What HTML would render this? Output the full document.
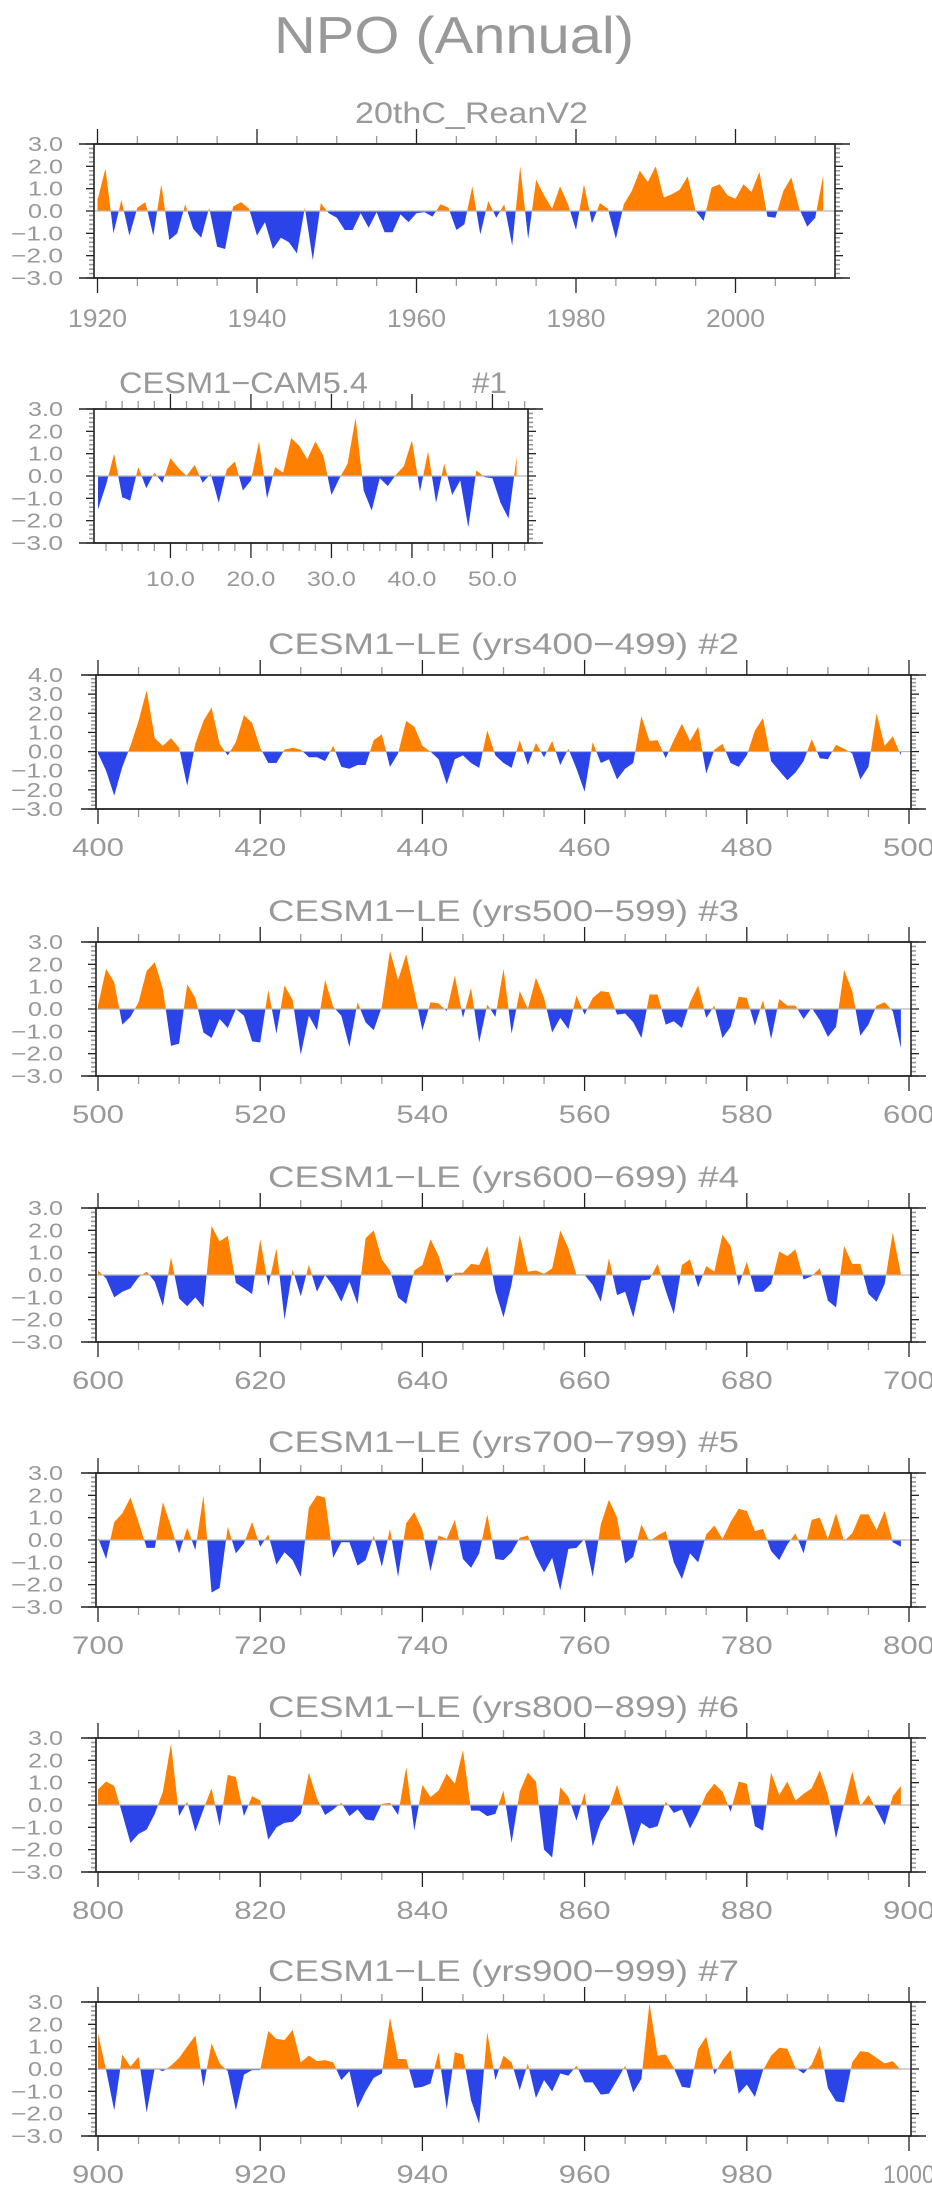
<!DOCTYPE html>
<html><head><meta charset="utf-8"><style>
html,body{margin:0;padding:0;background:#fff;}
svg{display:block;font-family:"Liberation Sans",sans-serif;}
</style></head><body>
<svg id="fig" width="932" height="2194" viewBox="0 0 932 2194" xmlns="http://www.w3.org/2000/svg">
<text x="274" y="53" font-size="52" fill="#999" textLength="360" lengthAdjust="spacingAndGlyphs">NPO (Annual)</text>
</svg>
<script>
// ---- data ----
const reanStart = 1920;
const reanValues = [0.5,1.9,-1.0,0.5,-1.1,0.15,0.4,-1.1,1.2,-1.3,-1.0,0.3,-0.8,-1.2,0.15,-1.6,-1.7,0.2,0.4,0.1,-1.1,-0.5,-1.7,-1.2,-1.4,-1.9,0.15,-2.2,0.35,-0.1,-0.3,-0.85,-0.85,-0.1,-0.75,-0.05,-0.95,-0.95,-0.15,-0.5,-0.1,-0.05,-0.25,0.3,0.15,-0.85,-0.6,1.1,-1.05,0.45,-0.3,0.3,-1.55,2.0,-1.25,1.4,0.7,0.1,1.1,0.3,-0.85,1.2,-0.55,0.35,0.1,-1.25,0.3,0.9,1.8,1.3,2.0,0.6,0.75,0.95,1.55,0.0,-0.45,1.05,1.2,0.7,0.55,1.2,0.85,1.75,-0.25,-0.3,0.9,1.5,0.1,-0.7,-0.3,1.6];
const camStart = 1;
const camValues = [-1.5,-0.4,1.0,-0.95,-1.1,0.4,-0.55,0.15,-0.3,0.8,0.35,0.0,0.5,-0.3,0.1,-1.2,0.3,0.65,-0.65,-0.2,1.55,-1.0,0.4,0.15,1.7,1.35,0.75,1.55,0.9,-0.85,-0.1,0.55,2.6,-0.65,-1.55,-0.1,-0.45,0.05,0.45,1.6,-0.7,1.1,-1.2,0.55,-0.85,-0.2,-2.3,0.25,-0.05,-0.1,-1.2,-1.9,0.85];
const le2Values = [-0.1,-1.0,-2.3,-0.8,0.3,1.6,3.2,0.7,0.3,0.7,0.2,-1.8,0.4,1.6,2.3,0.4,-0.2,0.5,1.9,1.5,0.2,-0.6,-0.6,0.1,0.2,0.1,-0.3,-0.3,-0.5,0.3,-0.8,-0.9,-0.7,-0.7,0.6,0.9,-0.8,-0.1,1.6,1.3,0.3,0.0,-0.4,-1.7,-0.4,-0.2,-0.6,-0.85,1.1,-0.2,-0.6,-0.85,0.6,-0.7,0.45,-0.3,0.55,-0.7,0.15,-0.9,-2.1,0.5,-0.6,-0.4,-1.45,-0.9,-0.6,1.85,0.55,0.6,-0.35,0.6,1.45,0.55,1.3,-1.15,0.1,0.4,-0.6,-0.8,-0.2,1.1,1.75,-0.5,-1.0,-1.5,-1.1,-0.5,0.65,-0.35,-0.4,0.35,0.15,-0.1,-1.45,-0.8,2.0,0.3,0.8,-0.2];
const le3Values = [0.15,1.8,1.2,-0.7,-0.35,0.3,1.7,2.1,0.9,-1.65,-1.55,1.1,0.5,-1.05,-1.3,-0.45,-0.85,0.0,-0.3,-1.45,-1.5,0.85,-1.1,1.05,0.4,-2.05,-0.3,-0.95,1.3,0.1,-0.3,-1.7,0.3,-0.6,-0.95,0.1,2.6,1.3,2.45,0.8,-0.95,0.3,0.25,-0.1,1.5,-0.4,0.95,-1.5,0.2,-0.35,1.8,-1.1,0.8,0.0,1.4,0.5,-1.05,-0.4,-0.9,0.6,-0.25,0.5,0.8,0.75,-0.25,-0.2,-0.6,-1.3,0.65,0.65,-0.7,-0.55,-0.85,0.3,1.05,-0.4,0.15,-1.3,-0.8,0.55,0.5,-0.75,0.4,-1.35,0.45,0.15,0.15,-0.45,0.05,-0.5,-1.25,-0.8,1.75,0.8,-1.2,-0.7,0.15,0.3,-0.1,-1.75];
const le4Values = [0.2,-0.15,-1.0,-0.75,-0.6,-0.1,0.15,-0.3,-1.4,0.8,-1.05,-1.4,-1.0,-1.45,2.2,1.5,1.75,-0.35,-0.6,-0.85,1.6,-0.5,1.2,-2.0,0.25,-0.95,0.45,-0.75,0.0,-0.5,-1.2,-0.3,-1.3,1.65,2.0,0.7,0.2,-1.0,-1.3,0.2,0.45,1.6,0.85,-0.35,0.1,0.1,0.5,0.45,1.3,-0.7,-1.9,-0.4,1.8,0.15,0.2,0.05,0.3,2.0,1.2,0.0,0.0,-0.45,-1.2,0.75,-0.9,-0.75,-1.9,-0.25,-0.2,0.5,-0.7,-1.75,0.45,0.7,-0.55,0.4,0.15,1.8,1.3,-0.5,0.6,-0.75,-0.75,-0.4,1.05,0.85,1.15,-0.2,-0.05,0.3,-1.15,-1.45,1.3,0.5,0.5,-0.85,-1.2,-0.4,1.9,0.05];
const le5Values = [0.1,-0.85,0.8,1.2,1.9,0.8,-0.35,-0.35,1.7,0.6,-0.6,0.55,-0.45,2.0,-2.35,-2.15,0.6,-0.6,-0.15,0.8,-0.3,0.25,-1.1,-0.55,-0.9,-1.65,1.45,2.0,1.9,-0.8,-0.1,-0.1,-1.15,-0.9,0.2,-1.2,0.5,-1.65,0.75,1.25,0.45,-1.4,0.2,0.05,0.9,-0.85,-1.25,-0.6,1.15,-0.85,-0.9,-0.55,0.1,0.2,-0.75,-1.45,-0.8,-2.25,-0.4,-0.35,0.05,-1.65,0.7,1.8,1.0,-1.05,-0.75,0.7,-0.05,0.2,0.4,-1.0,-1.75,-0.6,-1.0,0.25,0.65,0.05,0.8,1.4,1.3,0.4,0.5,-0.5,-0.9,-0.2,0.3,-0.6,0.9,1.0,0.05,1.2,-0.05,0.3,1.15,1.15,0.45,1.3,-0.1,-0.3];
const le6Values = [0.7,1.05,0.85,-0.4,-1.7,-1.3,-1.1,-0.4,0.6,2.75,-0.5,0.15,-1.2,-0.2,0.75,-0.95,1.35,1.25,-0.5,0.4,0.2,-1.55,-1.0,-0.8,-0.75,-0.4,1.45,0.3,-0.45,-0.2,0.1,-0.5,-0.2,-0.65,-0.7,0.05,0.1,-0.45,1.7,-1.15,0.9,0.35,0.65,1.4,0.95,2.45,-0.25,-0.25,-0.5,-0.4,0.65,-1.7,0.6,1.45,1.05,-2.0,-2.35,0.8,0.35,-0.7,0.55,-1.85,-0.75,-0.2,0.9,-0.3,-1.85,-0.8,-1.05,-0.95,0.15,-0.35,-0.2,-1.05,-0.35,0.5,0.95,0.6,-0.3,1.05,0.95,-0.95,-1.15,1.45,0.45,1.05,0.2,0.5,0.75,1.55,0.45,-1.5,0.05,1.5,-0.05,0.45,-0.2,-0.9,0.4,0.85];
const le7Values = [1.6,-0.05,-1.85,0.65,0.1,0.55,-1.95,0.05,-0.1,0.15,0.5,1.0,1.5,-0.8,1.15,0.25,-0.1,-1.85,-0.25,-0.05,-0.05,1.7,1.35,1.3,1.75,0.3,0.6,0.35,0.4,0.3,-0.5,-0.1,-1.75,-1.0,-0.4,-0.2,2.3,0.45,0.45,-0.85,-0.8,-0.65,0.75,-1.8,0.75,0.65,-1.4,-2.45,1.65,-0.5,0.6,0.3,-0.95,0.25,-1.3,-0.5,-1.0,-0.2,-0.3,0.15,-0.6,-0.6,-1.15,-1.1,-0.5,0.15,-1.05,-0.45,2.95,0.6,0.65,0.05,-0.8,-0.85,0.9,1.45,-0.25,0.4,0.85,-1.1,-0.7,-1.25,-0.05,0.6,0.95,0.9,0.05,-0.2,0.2,1.05,-0.85,-1.45,-1.5,0.3,0.8,0.75,0.5,0.25,0.35,-0.05];
const reanTicks = [1920,1940,1960,1980,2000];
const camTicks = [10,20,30,40,50];
const camTickLabels = ["10.0","20.0","30.0","40.0","50.0"];
const le2Ticks = [400,420,440,460,480,500];
const le3Ticks = [500,520,540,560,580,600];
const le4Ticks = [600,620,640,660,680,700];
const le5Ticks = [700,720,740,760,780,800];
const le6Ticks = [800,820,840,860,880,900];
const le7Ticks = [900,920,940,960,980,1000];

const NS = "http://www.w3.org/2000/svg";
const svg = document.getElementById('fig');
function mk(tag, attrs, parent){ const e=document.createElementNS(NS,tag); for(const k in attrs) e.setAttribute(k,attrs[k]); (parent||svg).appendChild(e); return e; }

const panels = [
 {id:'rean', title:'20thC_ReanV2', tx:355, tw:233, top:144, left:94, right:835, x0:97.5, xs:7.975, start:reanStart, vals:reanValues, ymin:-3, ymax:3, ticks:reanTicks, labels:reanTicks.map(String), minor:5, lf:25, lw:59, lo:40},
 {id:'cam', title:'CESM1\u2212CAM5.4', tx:119, tw:249, title2:'#1', top:409, left:94, right:528, x0:98, xs:8.05, start:camStart, vals:camValues, ymin:-3, ymax:3, ticks:camTicks, labels:camTickLabels, minor:2, lf:21, lw:49, lo:35},
 {id:'le2', title:'CESM1\u2212LE (yrs400\u2212499) #2', top:675, vals:le2Values, start:400, ymin:-3, ymax:4, ticks:le2Ticks},
 {id:'le3', title:'CESM1\u2212LE (yrs500\u2212599) #3', top:942, vals:le3Values, start:500, ymin:-3, ymax:3, ticks:le3Ticks},
 {id:'le4', title:'CESM1\u2212LE (yrs600\u2212699) #4', top:1208, vals:le4Values, start:600, ymin:-3, ymax:3, ticks:le4Ticks},
 {id:'le5', title:'CESM1\u2212LE (yrs700\u2212799) #5', top:1473, vals:le5Values, start:700, ymin:-3, ymax:3, ticks:le5Ticks},
 {id:'le6', title:'CESM1\u2212LE (yrs800\u2212899) #6', top:1738, vals:le6Values, start:800, ymin:-3, ymax:3, ticks:le6Ticks},
 {id:'le7', title:'CESM1\u2212LE (yrs900\u2212999) #7', top:2002, vals:le7Values, start:900, ymin:-3, ymax:3, ticks:le7Ticks}
];
panels.forEach(p=>{
  if(p.left===undefined){ p.left=96; p.right=911; p.x0=98; p.xs=8.11; p.minor=5; p.lf=25; p.lw=52; p.lo=38; p.tx=268; p.tw=471; p.labels=p.ticks.map(String); }
});

const H = 134;
panels.forEach(p=>{
  const g = mk('g',{});
  
  
  const xAt = v => p.x0 + (v - p.start) * p.xs;
  const yAt = v => p.top + (p.ymax - v) / (p.ymax - p.ymin) * H;
  const bottom = p.top + H;
  const y0 = yAt(0);
  const t = mk('text',{x:p.tx, y:p.id==='cam'? p.top-16 : p.top-21, 'font-size':30, fill:'#999', textLength:p.tw, lengthAdjust:'spacingAndGlyphs'}, g);
  t.textContent = p.title;
  
  
  if(p.title2){
    const t2 = mk('text',{x:472, y:p.top-16, 'font-size':30, fill:'#999', textLength:35, lengthAdjust:'spacingAndGlyphs'}, g);
    t2.textContent = p.title2;
    
    
  }
  const cidA = 'ca'+p.id, cidB='cb'+p.id;
  const defs = mk('defs',{}, g);
  const cA = mk('clipPath',{id:cidA}, defs); mk('rect',{x:p.left, y:p.top, width:p.right-p.left, height:y0-p.top}, cA);
  const cB = mk('clipPath',{id:cidB}, defs); mk('rect',{x:p.left, y:y0, width:p.right-p.left, height:bottom-y0}, cB);
  let d = 'M'+xAt(p.start).toFixed(2)+','+y0.toFixed(2);
  p.vals.forEach((v,i)=>{ d += ' L'+xAt(p.start+i).toFixed(2)+','+yAt(v).toFixed(2); });
  d += ' L'+xAt(p.start+p.vals.length-1).toFixed(2)+','+y0.toFixed(2)+' Z';
  const pos = mk('path',{d:d, fill:'#ff8000', 'clip-path':'url(#'+cidA+')'}, g);
  
  
  const neg = mk('path',{d:d, fill:'#2a44ea', 'clip-path':'url(#'+cidB+')'}, g);
  
  
  const zl = mk('line',{x1:p.left, x2:p.right, y1:y0, y2:y0, stroke:'#b8b8b8', 'stroke-width':1.2}, g);
  
  
  const ticks = mk('g',{}, g);
  
  
  for(let k=Math.round(p.ymin*5); k<=Math.round(p.ymax*5); k++){
    const v=k/5, y=yAt(v), major = (k%5===0);
    const len = major?8:5, col = major?'#222':'#999';
    mk('line',{x1:p.left-len, x2:p.left, y1:y, y2:y, stroke:col, 'stroke-width':major?1.3:1.6}, ticks);
    mk('line',{x1:p.right, x2:p.right+len, y1:y, y2:y, stroke:col, 'stroke-width':major?1.3:1.6}, ticks);
    if(major){
      const lab = mk('text',{x:63, y:y+7, 'font-size':20, fill:'#999', 'text-anchor':'end', textLength: v<0?52:35, lengthAdjust:'spacingAndGlyphs'}, ticks);
      lab.textContent = (v<0?'\u2212':'') + Math.abs(v).toFixed(1);
      
      
    }
  }
  const xt = mk('g',{}, g);
  
  
  const lo = p.start - (p.x0 - p.left)/p.xs, hi = p.start + (p.right - p.x0)/p.xs;
  for(let v = Math.ceil(lo/p.minor)*p.minor; v<=hi; v+=p.minor){
    const x = xAt(v); const major = p.ticks.indexOf(v)>=0;
    const len = major?15:8, col = major?'#222':'#999';
    mk('line',{x1:x, x2:x, y1:p.top-len, y2:p.top, stroke:col, 'stroke-width':1.3}, xt);
    mk('line',{x1:x, x2:x, y1:bottom, y2:bottom+len, stroke:col, 'stroke-width':1.3}, xt);
  }
  p.ticks.forEach((v,i)=>{
    const lab = mk('text',{x:xAt(v), y:bottom+p.lo+Math.round(p.lf*0.36), 'font-size':p.lf, fill:'#999', 'text-anchor':'middle', textLength:p.labels[i].length>3? p.lw : p.lw*0.78*(p.lf>21?1.28:1), lengthAdjust:'spacingAndGlyphs'}, xt);
    lab.textContent = p.labels[i];
    
    
  });
  const fr = mk('rect',{x:p.left, y:p.top, width:p.right-p.left, height:H, fill:'none', stroke:'#222', 'stroke-width':1.6}, g);
  
  
  mk('line',{x1:p.left-15, x2:p.right+15, y1:p.top, y2:p.top, stroke:'#222', 'stroke-width':1.6}, g);
  mk('line',{x1:p.left-15, x2:p.right+15, y1:bottom, y2:bottom, stroke:'#222', 'stroke-width':1.6}, g);
});
</script>
</body></html>
